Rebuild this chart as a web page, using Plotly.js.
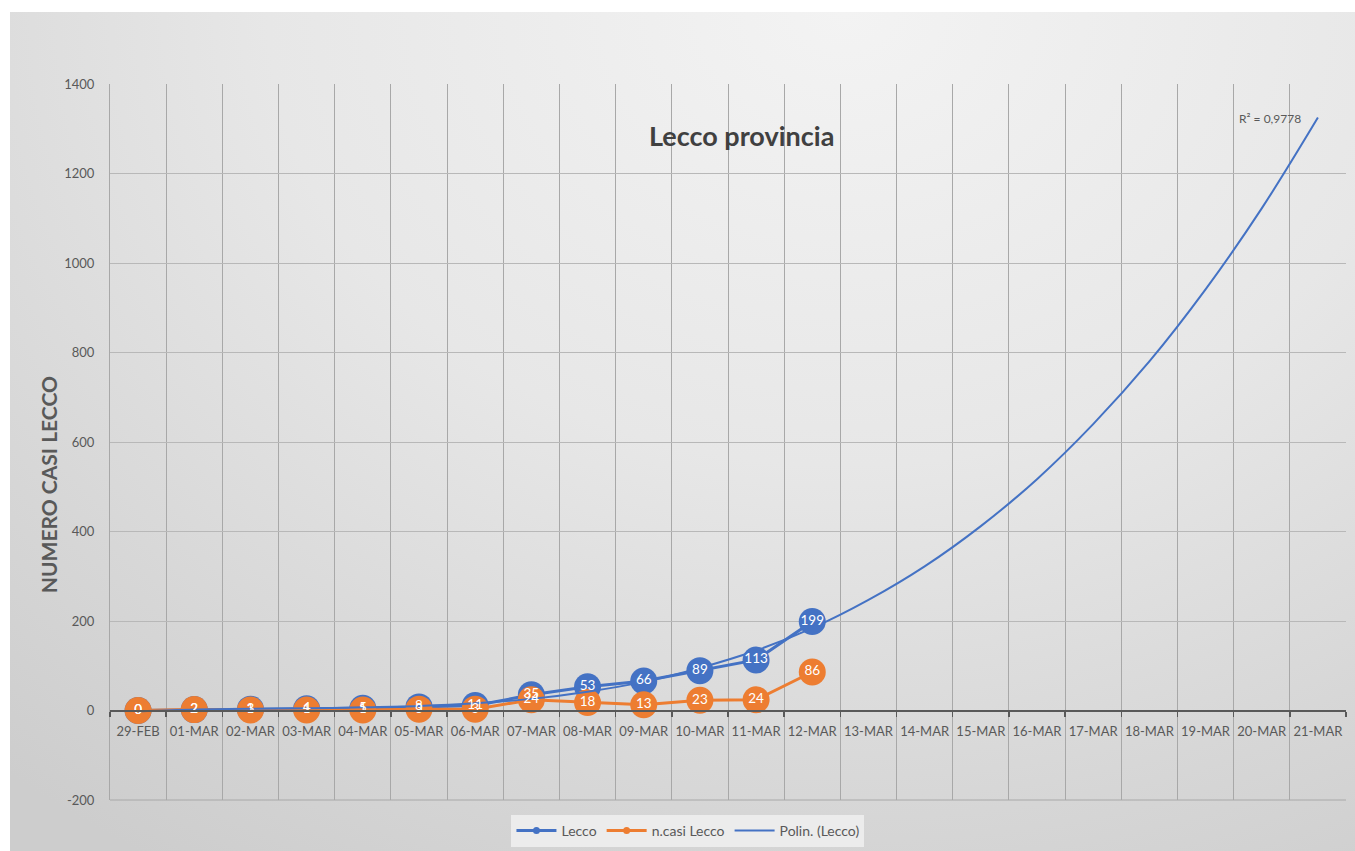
<!DOCTYPE html>
<html>
<head>
<meta charset="utf-8">
<script src="https://cdn.plot.ly/plotly-3.0.1.min.js"></script>
<style>
  html, body { margin: 0; padding: 0; background: #ffffff; width: 1355px; height: 851px; overflow: hidden; }
  #chart {
    position: absolute; left: 10px; top: 12px; width: 1345px; height: 839px;
    background: radial-gradient(ellipse 95% 120% at 62% 0%, #f3f3f3 0%, #e7e7e7 45%, #d6d6d6 80%, #cdcdcd 100%);
  }
</style>
</head>
<body>
<div id="chart"></div>
<script>
// Categories (x axis)
const dates = ['29-FEB','01-MAR','02-MAR','03-MAR','04-MAR','05-MAR','06-MAR','07-MAR','08-MAR','09-MAR','10-MAR',
               '11-MAR','12-MAR','13-MAR','14-MAR','15-MAR','16-MAR','17-MAR','18-MAR','19-MAR','20-MAR','21-MAR'];
// Observed dates
const obsDates = ['29-FEB','01-MAR','02-MAR','03-MAR','04-MAR','05-MAR','06-MAR','07-MAR','08-MAR','09-MAR','10-MAR','11-MAR','12-MAR'];
// Series "Lecco" (cumulative cases)
const lecco = [0, 2, 3, 4, 5, 8, 11, 35, 53, 66, 89, 113, 199];
// Series "n.casi Lecco" (new cases)
const nCasiLecco = [0, 2, 1, 1, 1, 3, 3, 24, 18, 13, 23, 24, 86];
// Trendline "Polin. (Lecco)" values
const polinLecco = [-2, 2, 4, 5, 7, 10, 16, 26, 42, 64, 95, 134, 184, 247, 322, 412, 517, 640, 780, 941, 1122, 1325];
// Y ticks
const yTicks = [-200, 0, 200, 400, 600, 800, 1000, 1200, 1400];
const yTickText = ['-200', '0', '200', '400', '600', '800', '1000', '1200', '1400'];

const BLUE = '#4472C4';
const ORANGE = '#ED7D31';
const GREY_TXT = '#595959';
const FONT = 'Lato, "Open Sans", sans-serif';

const traces = [
  { // Lecco line + markers
    x: obsDates, y: lecco, type: 'scatter', mode: 'lines+markers', name: 'Lecco', showlegend: false,
    line: { color: BLUE, width: 3 }, marker: { color: BLUE, size: 27 }, hoverinfo: 'skip'
  },
  { // n.casi Lecco line + markers
    x: obsDates, y: nCasiLecco, type: 'scatter', mode: 'lines+markers', name: 'n.casi Lecco', showlegend: false,
    line: { color: ORANGE, width: 3 }, marker: { color: ORANGE, size: 27 }, hoverinfo: 'skip'
  },
  { // polynomial trendline
    x: dates, y: polinLecco, type: 'scatter', mode: 'lines', name: 'Polin. (Lecco)', showlegend: false,
    line: { color: BLUE, width: 2, shape: 'spline', smoothing: 1 }, hoverinfo: 'skip'
  },
  { // Lecco data labels
    x: obsDates, y: lecco, type: 'scatter', mode: 'text', text: lecco.map(String), showlegend: false,
    textposition: 'middle center', textfont: { color: '#ffffff', size: 13.5, family: FONT }, hoverinfo: 'skip'
  },
  { // n.casi data labels
    x: obsDates, y: nCasiLecco, type: 'scatter', mode: 'text', text: nCasiLecco.map(String), showlegend: false,
    textposition: 'middle center', textfont: { color: '#ffffff', size: 13.5, family: FONT }, hoverinfo: 'skip'
  },
  // legend entries
  { x: [null], y: [null], type: 'scatter', mode: 'lines+markers', name: 'Lecco',
    line: { color: BLUE, width: 3 }, marker: { color: BLUE, size: 7 } },
  { x: [null], y: [null], type: 'scatter', mode: 'lines+markers', name: 'n.casi Lecco',
    line: { color: ORANGE, width: 3 }, marker: { color: ORANGE, size: 7 } },
  { x: [null], y: [null], type: 'scatter', mode: 'lines', name: 'Polin. (Lecco)',
    line: { color: BLUE, width: 2 } }
];

const layout = {
  width: 1345, height: 839,
  paper_bgcolor: 'rgba(0,0,0,0)', plot_bgcolor: 'rgba(0,0,0,0)',
  margin: { l: 100, r: 9, t: 72, b: 51, autoexpand: false },
  font: { family: FONT, color: GREY_TXT, size: 13 },
  hovermode: false,
  showlegend: true,
  title: {
    text: 'Lecco provincia', x: 0.544, xanchor: 'center', y: 0.851, yanchor: 'middle',
    font: { family: FONT, size: 27, color: '#404040', weight: 'bold' }
  },
  xaxis: {
    type: 'category', categoryorder: 'array', categoryarray: dates,
    range: [-0.5, 21.5], fixedrange: true,
    anchor: 'free', position: 0.125,
    showline: true, linecolor: GREY_TXT, linewidth: 2,
    tickson: 'boundaries', ticks: 'outside', ticklen: 5, tickcolor: GREY_TXT, tickwidth: 1.5,
    showgrid: true, gridcolor: '#a8a8a8', gridwidth: 1,
    tickangle: 0,
    tickfont: { family: FONT, size: 13, color: GREY_TXT },
    ticklabelstandoff: 9,
    zeroline: false, automargin: false
  },
  yaxis: {
    range: [-200, 1400], tickvals: yTicks, ticktext: yTickText, fixedrange: true,
    showline: true, linecolor: '#a8a8a8', linewidth: 1,
    showgrid: true, gridcolor: '#b8b8b8', gridwidth: 1,
    zeroline: false, ticks: '',
    tickfont: { family: FONT, size: 13, color: GREY_TXT },
    ticklabelstandoff: 12, automargin: false
  },
  legend: {
    orientation: 'h', x: 0.4676, xanchor: 'center', y: -0.0433, yanchor: 'middle',
    bgcolor: 'rgba(240,240,240,0.85)', borderwidth: 0, itemwidth: 40,
    font: { family: FONT, size: 14, color: GREY_TXT }
  },
  shapes: [
    { // bottom border of the plot area
      type: 'line', xref: 'paper', yref: 'paper', x0: 0, x1: 1, y0: 0, y1: 0,
      line: { color: '#a8a8a8', width: 1 }
    }
  ],
  annotations: [
    {
      text: 'NUMERO CASI LECCO', xref: 'paper', yref: 'paper', x: -0.0502, y: 0.441,
      xanchor: 'center', yanchor: 'middle', textangle: -90, showarrow: false,
      font: { family: FONT, size: 21, color: GREY_TXT, weight: 'bold' }
    },
    {
      text: 'R² = 0,9778', xref: 'paper', yref: 'paper', x: 0.965, y: 0.9525,
      xanchor: 'right', yanchor: 'middle', showarrow: false,
      font: { family: FONT, size: 12, color: GREY_TXT }
    }
  ]
};

Plotly.newPlot('chart', traces, layout, { displayModeBar: false, staticPlot: true });
</script>
</body>
</html>
